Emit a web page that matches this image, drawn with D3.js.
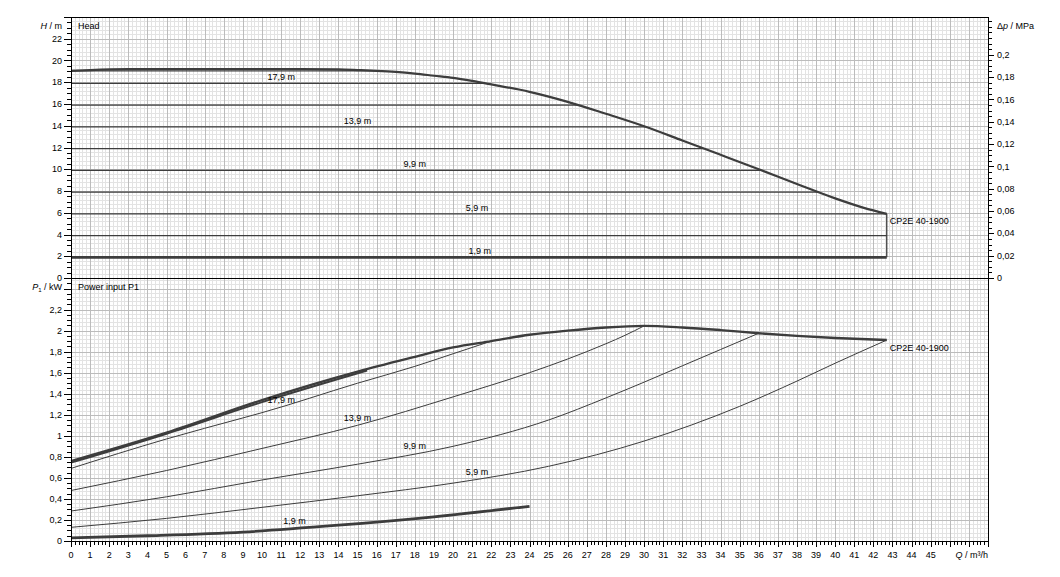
<!DOCTYPE html>
<html>
<head>
<meta charset="utf-8">
<script src="https://cdn.jsdelivr.net/npm/d3@7"></script>
<style>
  body { margin: 0; background: #fff; }
  text { font-family: "Liberation Sans", Arial, sans-serif; font-size: 9px; fill: #000; }
</style>
</head>
<body>
<div id="chart"></div>
<script>
let pumpName = "CP2E 40-1900";
let qTicks = d3.range(0, 46);
let headTicks = [0, 2, 4, 6, 8, 10, 12, 14, 16, 18, 20, 22];
let powerTicks = [0, 0.2, 0.4, 0.6, 0.8, 1, 1.2, 1.4, 1.6, 1.8, 2, 2.2];
let dpTicks = [0, 0.02, 0.04, 0.06, 0.08, 0.1, 0.12, 0.14, 0.16, 0.18, 0.2];

// max speed head curve
let headQ = [0, 1, 3, 6, 12, 14, 15, 16, 17, 18, 19, 20, 21, 22, 24, 26, 28, 30, 32, 34, 36, 38, 40, 41.5, 42.7];
let headH = [19.05, 19.12, 19.2, 19.22, 19.22, 19.18, 19.12, 19.05, 18.95, 18.8, 18.6, 18.4, 18.12, 17.8, 17.12, 16.2, 15.1, 13.95, 12.65, 11.33, 10.0, 8.64, 7.32, 6.45, 5.9];

// constant head setpoints (m)
let levels = [19.05, 17.9, 15.9, 13.9, 11.9, 9.9, 7.9, 5.9, 3.9, 1.9];
let labelLevels = ["17,9 m", "13,9 m", "9,9 m", "5,9 m", "1,9 m"];
let labelHead = [17.9, 13.9, 9.9, 5.9, 1.9];
let labelQTop = [11, 15, 18, 21.25, 21.4];
let labelQBottom = [11, 15, 18, 21.25, 11.7];

// power input curves
let powerMaxQ = [0, 5, 10, 15, 18, 20, 22, 24, 26, 28, 30, 32, 34, 36, 38, 40, 42.7];
let powerMaxP = [0.76, 1.03, 1.34, 1.61, 1.75, 1.84, 1.9, 1.96, 2.0, 2.03, 2.045, 2.03, 2.005, 1.975, 1.95, 1.93, 1.91];
let power190Q = [0, 5, 10, 15.5];
let power190P = [0.745, 1.02, 1.32, 1.62];
let power179Q = [0, 5, 9, 10, 15, 18, 20, 22];
let power179P = [0.69, 0.97, 1.17, 1.22, 1.5, 1.66, 1.78, 1.9];
let power139Q = [0, 5, 10, 15, 20, 24, 26, 28, 29, 30];
let power139P = [0.48, 0.67, 0.88, 1.1, 1.37, 1.6, 1.73, 1.875, 1.955, 2.045];
let power99Q = [0, 5, 10, 15, 20, 25, 28, 30, 32, 34, 36];
let power99P = [0.285, 0.42, 0.58, 0.73, 0.9, 1.15, 1.36, 1.51, 1.665, 1.82, 1.975];
let power59Q = [0, 5, 10, 15, 20, 25, 30, 35, 38, 40, 42.7];
let power59P = [0.13, 0.215, 0.32, 0.43, 0.55, 0.71, 0.95, 1.28, 1.52, 1.69, 1.91];
let power19Q = [0, 4, 9, 14, 19, 24];
let power19P = [0.03, 0.05, 0.085, 0.15, 0.23, 0.33];

let width = 1060,
  height = 577;
let left = 71,
  right = 988,
  top1 = 17,
  mid = 278,
  bottom = 541;

let svg = d3
  .select("#chart")
  .append("svg")
  .attr("width", width)
  .attr("height", height);

let x = d3.scaleLinear().domain([0, 48]).range([left, right]);
let yH = d3.scaleLinear().domain([0, 24]).range([mid, top1]);
let yDp = d3.scaleLinear().domain([0, 0.2338]).range([mid, top1]);
let yP = d3.scaleLinear().domain([0, 2.5]).range([bottom, mid]);

let locale = d3.formatLocale({ decimal: ",", thousands: ".", grouping: [3], currency: ["", ""] });
let fmt = locale.format("~g");

function px(v) {
  return Math.round(v) + 0.5;
}

let zip = (a, b) => a.map((v, i) => [v, b[i]]);

//grid
let grid = svg.append("g").attr("shape-rendering", "crispEdges");
function gridLines(values, isVertical, scale, y0, y1, color) {
  values.forEach((v) => {
    let p = px(scale(v));
    grid
      .append("line")
      .attr("x1", isVertical ? p : left)
      .attr("x2", isVertical ? p : right)
      .attr("y1", isVertical ? y0 : p)
      .attr("y2", isVertical ? y1 : p)
      .attr("stroke", color)
      .attr("stroke-width", 1);
  });
}
let minorColor = "#e3e3e3",
  majorColor = "#bcbcbc";
gridLines(d3.range(0, 241).map((i) => i * 0.2), true, x, top1, bottom, minorColor);
gridLines(d3.range(0, 61).map((i) => i * 0.4), false, yH, 0, 0, minorColor);
gridLines(d3.range(0, 63).map((i) => i * 0.04), false, yP, 0, 0, minorColor);
gridLines(d3.range(0, 49), true, x, top1, bottom, majorColor);
gridLines(d3.range(0, 13).map((i) => i * 2), false, yH, 0, 0, majorColor);
gridLines(d3.range(0, 13).map((i) => i * 0.2), false, yP, 0, 0, majorColor);

let curveColor = "#3d3d3d";

// find flow where head curve drops to h
function qAtHead(h) {
  for (var i = headH.length - 1; i > 0; i--) {
    let h0 = headH[i - 1],
      h1 = headH[i];
    if (h <= h0 && h >= h1) {
      return headQ[i - 1] + ((h0 - h) / (h0 - h1)) * (headQ[i] - headQ[i - 1]);
    }
  }
  return headQ[headQ.length - 1];
}

function interp(qs, vs, q) {
  for (var i = 1; i < qs.length; i++) {
    if (q <= qs[i]) {
      let t = (q - qs[i - 1]) / (qs[i] - qs[i - 1]);
      return vs[i - 1] + t * (vs[i] - vs[i - 1]);
    }
  }
  return vs[vs.length - 1];
}

let qMax = headQ[headQ.length - 1];

//level lines in head panel
levels.forEach((h) => {
  let qEnd = h <= headH[headH.length - 1] ? qMax : qAtHead(h);
  svg
    .append("line")
    .attr("x1", x(0))
    .attr("x2", x(qEnd))
    .attr("y1", yH(h))
    .attr("y2", yH(h))
    .attr("stroke", curveColor)
    .attr("stroke-width", h == 1.9 ? 2.6 : 1.3);
});

// vertical line at max flow
svg
  .append("line")
  .attr("x1", x(qMax))
  .attr("x2", x(qMax))
  .attr("y1", yH(headH[headH.length - 1]))
  .attr("y2", yH(d3.min(levels)))
  .attr("stroke", curveColor)
  .attr("stroke-width", 1.3);

let headLine = d3
  .line()
  .x((d) => x(d[0]))
  .y((d) => yH(d[1]))
  .curve(d3.curveMonotoneX);

svg
  .append("path")
  .datum(zip(headQ, headH))
  .attr("d", headLine)
  .attr("fill", "none")
  .attr("stroke", curveColor)
  .attr("stroke-width", 2.2);

//power curves
let powerLine = d3
  .line()
  .x((d) => x(d[0]))
  .y((d) => yP(d[1]))
  .curve(d3.curveMonotoneX);

let powerCurves = [
  [power179Q, power179P, 1],
  [power139Q, power139P, 1],
  [power99Q, power99P, 1],
  [power59Q, power59P, 1],
  [power19Q, power19P, 2.8],
  [power190Q, power190P, 2],
  [powerMaxQ, powerMaxP, 2.4],
];
powerCurves.forEach((c) => {
  svg
    .append("path")
    .datum(zip(c[0], c[1]))
    .attr("d", powerLine)
    .attr("fill", "none")
    .attr("stroke", curveColor)
    .attr("stroke-width", c[2]);
});

// curve labels
let powerLabelCurves = [
  [power179Q, power179P],
  [power139Q, power139P],
  [power99Q, power99P],
  [power59Q, power59P],
  [power19Q, power19P],
];
labelLevels.forEach((t, i) => {
  svg
    .append("text")
    .attr("x", x(labelQTop[i]))
    .attr("y", yH(labelHead[i]) - 3)
    .attr("text-anchor", "middle")
    .attr("fill", "#333")
    .text(t);
  let c = powerLabelCurves[i];
  svg
    .append("text")
    .attr("x", x(labelQBottom[i]))
    .attr("y", yP(interp(c[0], c[1], labelQBottom[i])) - 4)
    .attr("text-anchor", "middle")
    .attr("fill", "#333")
    .text(t);
});

svg
  .append("text")
  .attr("x", x(qMax) + 3)
  .attr("y", yH(headH[headH.length - 1]) + 7)
  .attr("dy", "0.35em")
  .attr("fill", "#333")
  .text(pumpName);
svg
  .append("text")
  .attr("x", x(qMax) + 3)
  .attr("y", yP(powerMaxP[powerMaxP.length - 1]) + 8)
  .attr("dy", "0.35em")
  .attr("fill", "#333")
  .text(pumpName);

//frame
let frame = svg.append("g").attr("shape-rendering", "crispEdges").attr("stroke", "#000");
frame.append("rect").attr("x", left + 0.5).attr("y", top1 + 0.5).attr("width", right - left).attr("height", bottom - top1).attr("fill", "none");
frame.append("line").attr("x1", left).attr("x2", right).attr("y1", mid + 0.5).attr("y2", mid + 0.5);

//ticks
let tickG = svg.append("g").attr("shape-rendering", "crispEdges").attr("stroke", "#000");
function ticks(values, scale, dir, len) {
  values.forEach((v) => {
    let p = px(scale(v));
    if (dir == "left")
      tickG.append("line").attr("x1", left - len).attr("x2", left).attr("y1", p).attr("y2", p);
    if (dir == "right")
      tickG.append("line").attr("x1", right).attr("x2", right + len + 1).attr("y1", p).attr("y2", p);
    if (dir == "bottom")
      tickG.append("line").attr("x1", p).attr("x2", p).attr("y1", bottom).attr("y2", bottom + len + 1);
  });
}
ticks(d3.range(0, 49).map((i) => i * 0.5), yH, "left", 4);
ticks(d3.range(0, 13).map((i) => i * 2), yH, "left", 7);
ticks(d3.range(0, 50).map((i) => i * 0.05), yP, "left", 4);
ticks(d3.range(0, 13).map((i) => i * 0.2), yP, "left", 7);
ticks(d3.range(0, 47).map((i) => i * 0.005), yDp, "right", 3);
ticks(dpTicks, yDp, "right", 5);
ticks(d3.range(0, 241).map((i) => i * 0.2), x, "bottom", 3);
ticks(d3.range(0, 49), x, "bottom", 5);

//tick labels
headTicks.forEach((t) =>
  svg.append("text").attr("x", left - 9).attr("y", yH(t)).attr("dy", "0.35em").attr("text-anchor", "end").text(fmt(t))
);
powerTicks.forEach((t) =>
  svg.append("text").attr("x", left - 9).attr("y", yP(t)).attr("dy", "0.35em").attr("text-anchor", "end").text(fmt(t))
);
dpTicks.forEach((t) =>
  svg.append("text").attr("x", right + 9).attr("y", yDp(t)).attr("dy", "0.35em").text(fmt(t))
);
qTicks.forEach((t) =>
  svg.append("text").attr("x", x(t)).attr("y", bottom + 14).attr("dy", "0.35em").attr("text-anchor", "middle").text(t)
);

//axis titles
let hTitle = svg.append("text").attr("x", left - 9).attr("y", top1 + 9).attr("dy", "0.35em").attr("text-anchor", "end");
hTitle.append("tspan").attr("font-style", "italic").text("H");
hTitle.append("tspan").text(" / m");

let pTitle = svg.append("text").attr("x", left - 9).attr("y", mid + 9).attr("dy", "0.35em").attr("text-anchor", "end");
pTitle.append("tspan").attr("font-style", "italic").text("P");
pTitle.append("tspan").attr("font-size", "6px").attr("dy", "2").text("1");
pTitle.append("tspan").attr("dy", "-2").text(" / kW");

let dpTitle = svg.append("text").attr("x", right + 9).attr("y", top1 + 9).attr("dy", "0.35em");
dpTitle.append("tspan").text("Δ");
dpTitle.append("tspan").attr("font-style", "italic").text("p");
dpTitle.append("tspan").text(" / MPa");

let qTitle = svg.append("text").attr("x", right).attr("y", bottom + 14).attr("dy", "0.35em").attr("text-anchor", "end");
qTitle.append("tspan").attr("font-style", "italic").text("Q");
qTitle.append("tspan").text(" / m³/h");

svg.append("text").attr("x", left + 7).attr("y", top1 + 9).attr("dy", "0.35em").text("Head");
svg.append("text").attr("x", left + 7).attr("y", mid + 9).attr("dy", "0.35em").text("Power input P1");
</script>
</body>
</html>
